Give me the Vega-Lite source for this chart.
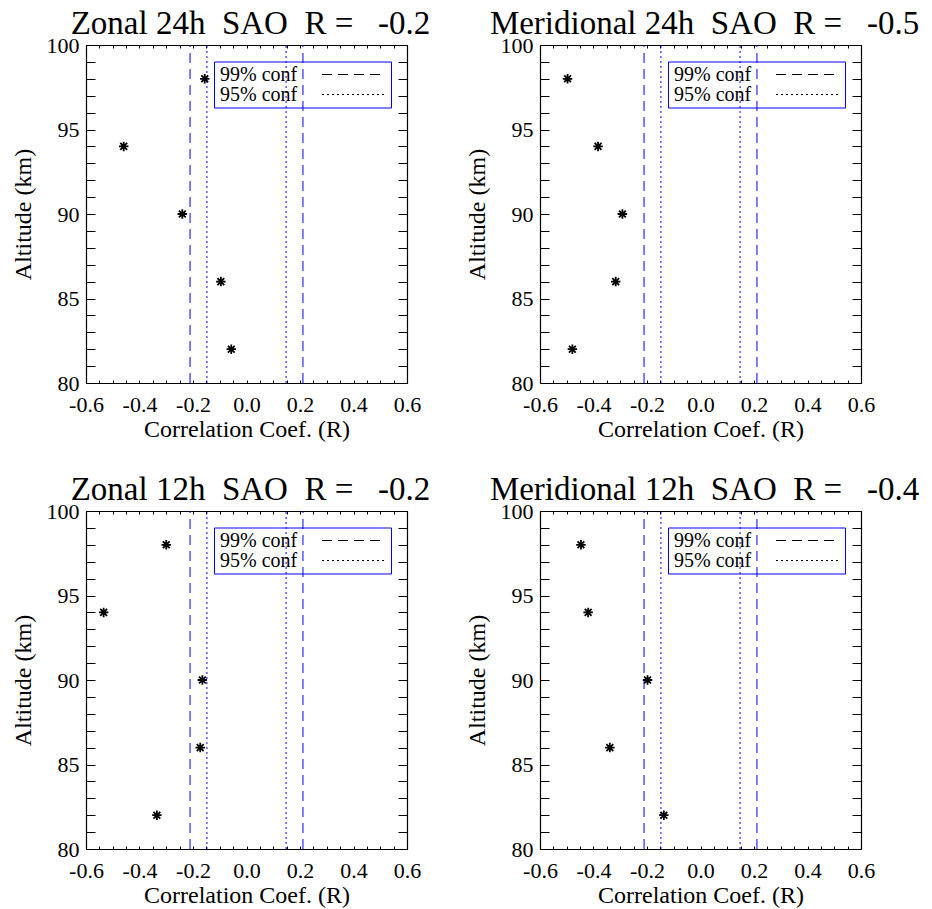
{
  "$schema": "https://vega.github.io/schema/vega-lite/v6.json",
  "background": "white",
  "padding": {"left": 11, "top": 8, "right": 5, "bottom": 5},
  "datasets": {
    "points": [
      {"panel": "Zonal 24h", "r": -0.156, "alt": 98},
      {"panel": "Zonal 24h", "r": -0.459, "alt": 94},
      {"panel": "Zonal 24h", "r": -0.24, "alt": 90},
      {"panel": "Zonal 24h", "r": -0.096, "alt": 86},
      {"panel": "Zonal 24h", "r": -0.057, "alt": 82},
      {"panel": "Meridional 24h", "r": -0.497, "alt": 98},
      {"panel": "Meridional 24h", "r": -0.383, "alt": 94},
      {"panel": "Meridional 24h", "r": -0.292, "alt": 90},
      {"panel": "Meridional 24h", "r": -0.317, "alt": 86},
      {"panel": "Meridional 24h", "r": -0.479, "alt": 82},
      {"panel": "Zonal 12h", "r": -0.3, "alt": 98},
      {"panel": "Zonal 12h", "r": -0.534, "alt": 94},
      {"panel": "Zonal 12h", "r": -0.165, "alt": 90},
      {"panel": "Zonal 12h", "r": -0.173, "alt": 86},
      {"panel": "Zonal 12h", "r": -0.335, "alt": 82},
      {"panel": "Meridional 12h", "r": -0.447, "alt": 98},
      {"panel": "Meridional 12h", "r": -0.42, "alt": 94},
      {"panel": "Meridional 12h", "r": -0.198, "alt": 90},
      {"panel": "Meridional 12h", "r": -0.339, "alt": 86},
      {"panel": "Meridional 12h", "r": -0.137, "alt": 82}
    ],
    "conf": [
      {"level": "99% conf", "r": -0.211},
      {"level": "99% conf", "r": 0.211},
      {"level": "95% conf", "r": -0.148},
      {"level": "95% conf", "r": 0.148}
    ]
  },
  "columns": 2,
  "spacing": {"row": 33, "column": 34},
  "resolve": {"scale": {"strokeDash": "independent"}, "legend": {"strokeDash": "independent"}},
  "concat": [
    {
      "title": "Zonal 24h\u00a0\u00a0SAO\u00a0\u00a0R =\u00a0\u00a0\u00a0-0.2",
      "width": 321, "height": 338,
      "resolve": {"axis": {"x": "independent", "y": "independent"}},
      "layer": [
        {
          "data": {"name": "conf"},
          "mark": {"type": "rule", "color": "#0000ff", "strokeWidth": 1},
          "encoding": {
            "x": {"field": "r", "type": "quantitative", "scale": {"domain": [-0.6, 0.6], "nice": false, "zero": false},
              "axis": {"orient": "bottom", "values": [-0.6,-0.55,-0.5,-0.45,-0.4,-0.35,-0.3,-0.25,-0.2,-0.15,-0.1,-0.05,0,0.05,0.1,0.15,0.2,0.25,0.3,0.35,0.4,0.45,0.5,0.55,0.6],
                "labelExpr": "abs(datum.value*5-round(datum.value*5))<0.01 ? replace(format(datum.value,'.1f'),'\u2212','-') : ''",
                "title": "Correlation Coef. (R)", "tickSize": -3, "labelPadding": 14, "titlePadding": 2, "labelOverlap": false, "labelFlush": false,
                "encode": {"ticks": {"y2": {"signal": "abs(datum.value*5-round(datum.value*5))<0.01 ? -6.5 : -3"}}}}},
            "y": {"datum": 80, "type": "quantitative", "scale": {"domain": [80, 100], "nice": false, "zero": false},
              "axis": {"orient": "right", "values": [80,81,82,83,84,85,86,87,88,89,90,91,92,93,94,95,96,97,98,99,100], "labels": false, "title": null, "tickSize": -9,
                "encode": {"ticks": {"x2": {"signal": "datum.value % 5 === 0 ? -17 : -9"}}}}},
            "y2": {"datum": 100},
            "strokeDash": {"field": "level", "type": "nominal", "scale": {"domain": ["99% conf", "95% conf"], "range": [[10, 6], [2, 3]]},
              "legend": {"orient": "none", "legendX": 128, "legendY": 16.5, "title": null, "symbolOffset": 127, "labelOffset": -144,
                "encode": {"labels": {"dy": {"value": -2}}}}}
          }
        },
        {
          "data": {"name": "points"},
          "transform": [{"filter": "datum.panel === 'Zonal 24h'"}],
          "mark": {"type": "point", "shape": "M-1,0L1,0M0,-1L0,1M-0.72,-0.72L0.72,0.72M-0.72,0.72L0.72,-0.72", "size": 90, "stroke": "black", "strokeWidth": 1.8, "filled": false, "opacity": 1},
          "encoding": {
            "x": {"field": "r", "type": "quantitative",
              "axis": {"orient": "top", "values": [-0.6,-0.55,-0.5,-0.45,-0.4,-0.35,-0.3,-0.25,-0.2,-0.15,-0.1,-0.05,0,0.05,0.1,0.15,0.2,0.25,0.3,0.35,0.4,0.45,0.5,0.55,0.6], "labels": false, "title": null, "tickSize": -3,
                "encode": {"ticks": {"y2": {"signal": "abs(datum.value*5-round(datum.value*5))<0.01 ? 6.5 : 3"}}}}},
            "y": {"field": "alt", "type": "quantitative",
              "axis": {"orient": "left", "values": [80,81,82,83,84,85,86,87,88,89,90,91,92,93,94,95,96,97,98,99,100], "labelExpr": "datum.value % 5 === 0 ? datum.label : ''", "labelOverlap": false, "labelFlush": false,
                "title": "Altitude (km)", "tickSize": -9, "labelPadding": 16, "titlePadding": 11,
                "encode": {"ticks": {"x2": {"signal": "datum.value % 5 === 0 ? 17 : 9"}}}}}
          }
        }
      ]
    },
    {
      "title": "Meridional 24h\u00a0\u00a0SAO\u00a0\u00a0R =\u00a0\u00a0\u00a0-0.5",
      "width": 321, "height": 338,
      "resolve": {"axis": {"x": "independent", "y": "independent"}},
      "layer": [
        {
          "data": {"name": "conf"},
          "mark": {"type": "rule", "color": "#0000ff", "strokeWidth": 1},
          "encoding": {
            "x": {"field": "r", "type": "quantitative", "scale": {"domain": [-0.6, 0.6], "nice": false, "zero": false},
              "axis": {"orient": "bottom", "values": [-0.6,-0.55,-0.5,-0.45,-0.4,-0.35,-0.3,-0.25,-0.2,-0.15,-0.1,-0.05,0,0.05,0.1,0.15,0.2,0.25,0.3,0.35,0.4,0.45,0.5,0.55,0.6],
                "labelExpr": "abs(datum.value*5-round(datum.value*5))<0.01 ? replace(format(datum.value,'.1f'),'\u2212','-') : ''",
                "title": "Correlation Coef. (R)", "tickSize": -3, "labelPadding": 14, "titlePadding": 2, "labelOverlap": false, "labelFlush": false,
                "encode": {"ticks": {"y2": {"signal": "abs(datum.value*5-round(datum.value*5))<0.01 ? -6.5 : -3"}}}}},
            "y": {"datum": 80, "type": "quantitative", "scale": {"domain": [80, 100], "nice": false, "zero": false},
              "axis": {"orient": "right", "values": [80,81,82,83,84,85,86,87,88,89,90,91,92,93,94,95,96,97,98,99,100], "labels": false, "title": null, "tickSize": -9,
                "encode": {"ticks": {"x2": {"signal": "datum.value % 5 === 0 ? -17 : -9"}}}}},
            "y2": {"datum": 100},
            "strokeDash": {"field": "level", "type": "nominal", "scale": {"domain": ["99% conf", "95% conf"], "range": [[10, 6], [2, 3]]},
              "legend": {"orient": "none", "legendX": 128, "legendY": 16.5, "title": null, "symbolOffset": 127, "labelOffset": -144,
                "encode": {"labels": {"dy": {"value": -2}}}}}
          }
        },
        {
          "data": {"name": "points"},
          "transform": [{"filter": "datum.panel === 'Meridional 24h'"}],
          "mark": {"type": "point", "shape": "M-1,0L1,0M0,-1L0,1M-0.72,-0.72L0.72,0.72M-0.72,0.72L0.72,-0.72", "size": 90, "stroke": "black", "strokeWidth": 1.8, "filled": false, "opacity": 1},
          "encoding": {
            "x": {"field": "r", "type": "quantitative",
              "axis": {"orient": "top", "values": [-0.6,-0.55,-0.5,-0.45,-0.4,-0.35,-0.3,-0.25,-0.2,-0.15,-0.1,-0.05,0,0.05,0.1,0.15,0.2,0.25,0.3,0.35,0.4,0.45,0.5,0.55,0.6], "labels": false, "title": null, "tickSize": -3,
                "encode": {"ticks": {"y2": {"signal": "abs(datum.value*5-round(datum.value*5))<0.01 ? 6.5 : 3"}}}}},
            "y": {"field": "alt", "type": "quantitative",
              "axis": {"orient": "left", "values": [80,81,82,83,84,85,86,87,88,89,90,91,92,93,94,95,96,97,98,99,100], "labelExpr": "datum.value % 5 === 0 ? datum.label : ''", "labelOverlap": false, "labelFlush": false,
                "title": "Altitude (km)", "tickSize": -9, "labelPadding": 16, "titlePadding": 11,
                "encode": {"ticks": {"x2": {"signal": "datum.value % 5 === 0 ? 17 : 9"}}}}}
          }
        }
      ]
    },
    {
      "title": "Zonal 12h\u00a0\u00a0SAO\u00a0\u00a0R =\u00a0\u00a0\u00a0-0.2",
      "width": 321, "height": 338,
      "resolve": {"axis": {"x": "independent", "y": "independent"}},
      "layer": [
        {
          "data": {"name": "conf"},
          "mark": {"type": "rule", "color": "#0000ff", "strokeWidth": 1},
          "encoding": {
            "x": {"field": "r", "type": "quantitative", "scale": {"domain": [-0.6, 0.6], "nice": false, "zero": false},
              "axis": {"orient": "bottom", "values": [-0.6,-0.55,-0.5,-0.45,-0.4,-0.35,-0.3,-0.25,-0.2,-0.15,-0.1,-0.05,0,0.05,0.1,0.15,0.2,0.25,0.3,0.35,0.4,0.45,0.5,0.55,0.6],
                "labelExpr": "abs(datum.value*5-round(datum.value*5))<0.01 ? replace(format(datum.value,'.1f'),'\u2212','-') : ''",
                "title": "Correlation Coef. (R)", "tickSize": -3, "labelPadding": 14, "titlePadding": 2, "labelOverlap": false, "labelFlush": false,
                "encode": {"ticks": {"y2": {"signal": "abs(datum.value*5-round(datum.value*5))<0.01 ? -6.5 : -3"}}}}},
            "y": {"datum": 80, "type": "quantitative", "scale": {"domain": [80, 100], "nice": false, "zero": false},
              "axis": {"orient": "right", "values": [80,81,82,83,84,85,86,87,88,89,90,91,92,93,94,95,96,97,98,99,100], "labels": false, "title": null, "tickSize": -9,
                "encode": {"ticks": {"x2": {"signal": "datum.value % 5 === 0 ? -17 : -9"}}}}},
            "y2": {"datum": 100},
            "strokeDash": {"field": "level", "type": "nominal", "scale": {"domain": ["99% conf", "95% conf"], "range": [[10, 6], [2, 3]]},
              "legend": {"orient": "none", "legendX": 128, "legendY": 16.5, "title": null, "symbolOffset": 127, "labelOffset": -144,
                "encode": {"labels": {"dy": {"value": -2}}}}}
          }
        },
        {
          "data": {"name": "points"},
          "transform": [{"filter": "datum.panel === 'Zonal 12h'"}],
          "mark": {"type": "point", "shape": "M-1,0L1,0M0,-1L0,1M-0.72,-0.72L0.72,0.72M-0.72,0.72L0.72,-0.72", "size": 90, "stroke": "black", "strokeWidth": 1.8, "filled": false, "opacity": 1},
          "encoding": {
            "x": {"field": "r", "type": "quantitative",
              "axis": {"orient": "top", "values": [-0.6,-0.55,-0.5,-0.45,-0.4,-0.35,-0.3,-0.25,-0.2,-0.15,-0.1,-0.05,0,0.05,0.1,0.15,0.2,0.25,0.3,0.35,0.4,0.45,0.5,0.55,0.6], "labels": false, "title": null, "tickSize": -3,
                "encode": {"ticks": {"y2": {"signal": "abs(datum.value*5-round(datum.value*5))<0.01 ? 6.5 : 3"}}}}},
            "y": {"field": "alt", "type": "quantitative",
              "axis": {"orient": "left", "values": [80,81,82,83,84,85,86,87,88,89,90,91,92,93,94,95,96,97,98,99,100], "labelExpr": "datum.value % 5 === 0 ? datum.label : ''", "labelOverlap": false, "labelFlush": false,
                "title": "Altitude (km)", "tickSize": -9, "labelPadding": 16, "titlePadding": 11,
                "encode": {"ticks": {"x2": {"signal": "datum.value % 5 === 0 ? 17 : 9"}}}}}
          }
        }
      ]
    },
    {
      "title": "Meridional 12h\u00a0\u00a0SAO\u00a0\u00a0R =\u00a0\u00a0\u00a0-0.4",
      "width": 321, "height": 338,
      "resolve": {"axis": {"x": "independent", "y": "independent"}},
      "layer": [
        {
          "data": {"name": "conf"},
          "mark": {"type": "rule", "color": "#0000ff", "strokeWidth": 1},
          "encoding": {
            "x": {"field": "r", "type": "quantitative", "scale": {"domain": [-0.6, 0.6], "nice": false, "zero": false},
              "axis": {"orient": "bottom", "values": [-0.6,-0.55,-0.5,-0.45,-0.4,-0.35,-0.3,-0.25,-0.2,-0.15,-0.1,-0.05,0,0.05,0.1,0.15,0.2,0.25,0.3,0.35,0.4,0.45,0.5,0.55,0.6],
                "labelExpr": "abs(datum.value*5-round(datum.value*5))<0.01 ? replace(format(datum.value,'.1f'),'\u2212','-') : ''",
                "title": "Correlation Coef. (R)", "tickSize": -3, "labelPadding": 14, "titlePadding": 2, "labelOverlap": false, "labelFlush": false,
                "encode": {"ticks": {"y2": {"signal": "abs(datum.value*5-round(datum.value*5))<0.01 ? -6.5 : -3"}}}}},
            "y": {"datum": 80, "type": "quantitative", "scale": {"domain": [80, 100], "nice": false, "zero": false},
              "axis": {"orient": "right", "values": [80,81,82,83,84,85,86,87,88,89,90,91,92,93,94,95,96,97,98,99,100], "labels": false, "title": null, "tickSize": -9,
                "encode": {"ticks": {"x2": {"signal": "datum.value % 5 === 0 ? -17 : -9"}}}}},
            "y2": {"datum": 100},
            "strokeDash": {"field": "level", "type": "nominal", "scale": {"domain": ["99% conf", "95% conf"], "range": [[10, 6], [2, 3]]},
              "legend": {"orient": "none", "legendX": 128, "legendY": 16.5, "title": null, "symbolOffset": 127, "labelOffset": -144,
                "encode": {"labels": {"dy": {"value": -2}}}}}
          }
        },
        {
          "data": {"name": "points"},
          "transform": [{"filter": "datum.panel === 'Meridional 12h'"}],
          "mark": {"type": "point", "shape": "M-1,0L1,0M0,-1L0,1M-0.72,-0.72L0.72,0.72M-0.72,0.72L0.72,-0.72", "size": 90, "stroke": "black", "strokeWidth": 1.8, "filled": false, "opacity": 1},
          "encoding": {
            "x": {"field": "r", "type": "quantitative",
              "axis": {"orient": "top", "values": [-0.6,-0.55,-0.5,-0.45,-0.4,-0.35,-0.3,-0.25,-0.2,-0.15,-0.1,-0.05,0,0.05,0.1,0.15,0.2,0.25,0.3,0.35,0.4,0.45,0.5,0.55,0.6], "labels": false, "title": null, "tickSize": -3,
                "encode": {"ticks": {"y2": {"signal": "abs(datum.value*5-round(datum.value*5))<0.01 ? 6.5 : 3"}}}}},
            "y": {"field": "alt", "type": "quantitative",
              "axis": {"orient": "left", "values": [80,81,82,83,84,85,86,87,88,89,90,91,92,93,94,95,96,97,98,99,100], "labelExpr": "datum.value % 5 === 0 ? datum.label : ''", "labelOverlap": false, "labelFlush": false,
                "title": "Altitude (km)", "tickSize": -9, "labelPadding": 16, "titlePadding": 11,
                "encode": {"ticks": {"x2": {"signal": "datum.value % 5 === 0 ? 17 : 9"}}}}}
          }
        }
      ]
    }
  ],
  "config": {
    "view": {"stroke": null},
    "axis": {"grid": false, "domainColor": "black", "domainWidth": 1.2, "tickColor": "black", "tickWidth": 1,
      "labelFont": "Liberation Serif", "labelFontSize": 22, "labelColor": "black",
      "titleFont": "Liberation Serif", "titleFontSize": 24, "titleFontWeight": "normal", "titleColor": "black"},
    "title": {"font": "Liberation Serif", "fontSize": 33, "fontWeight": "normal", "color": "black", "offset": -7, "dx": 4, "anchor": "middle", "frame": "group"},
    "legend": {"padding": 3, "strokeColor": "#0000ff", "labelFont": "Liberation Serif", "labelFontSize": 20, "labelColor": "black",
      "symbolType": "M-6.4,0L6.4,0", "symbolSize": 100, "symbolStrokeWidth": 1, "symbolStrokeColor": "black", "symbolFillColor": "transparent", "rowPadding": -4}
  }
}
